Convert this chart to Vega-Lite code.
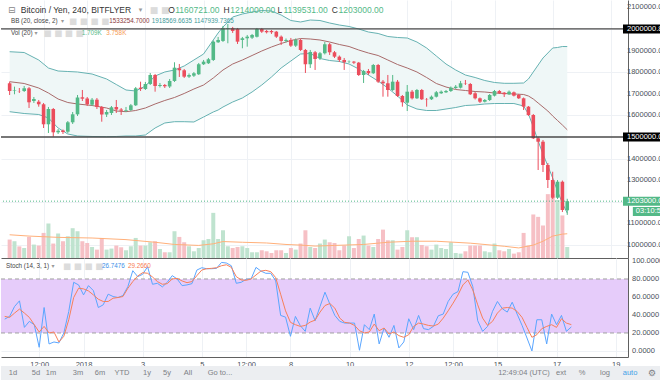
{
"$schema":"https://vega.github.io/schema/vega-lite/v6.json",
"padding":0,
"background":"#ffffff",
"spacing":0,
"bounds":"flush",
"config":{"view":{"stroke":null},"font":"Liberation Sans","axis":{"labelFont":"Liberation Sans","labelFontSize":7.5,"labelColor":"#4a4f59","labelOverlap":false}},
"datasets":{
"candles":[
{"t":"2017-12-29T08:00Z","o":1748600,"h":1756000,"l":1694400,"c":1712900,"v":2860,"k":35.4,"d":38.4},
{"t":"2017-12-29T12:00Z","o":1712900,"h":1732900,"l":1697700,"c":1715300,"v":2600,"k":38.4,"d":37.3},
{"t":"2017-12-29T16:00Z","o":1712900,"h":1726800,"l":1703700,"c":1712000,"v":1800,"k":49.4,"d":42.1},
{"t":"2017-12-29T20:00Z","o":1712900,"h":1736100,"l":1708300,"c":1725400,"v":1550,"k":55.7,"d":46.5},
{"t":"2017-12-30T00:00Z","o":1725400,"h":1731500,"l":1634200,"c":1660600,"v":3270,"k":26.2,"d":42.1},
{"t":"2017-12-30T04:00Z","o":1666600,"h":1685200,"l":1657400,"c":1675900,"v":2080,"k":32.9,"d":37.3},
{"t":"2017-12-30T08:00Z","o":1663400,"h":1671300,"l":1640300,"c":1651400,"v":1930,"k":29.2,"d":29.2},
{"t":"2017-12-30T12:00Z","o":1651400,"h":1657400,"l":1541600,"c":1558800,"v":3890,"k":4.1,"d":21.1},
{"t":"2017-12-30T16:00Z","o":1558800,"h":1639000,"l":1518500,"c":1629600,"v":5350,"k":48.3,"d":27.3},
{"t":"2017-12-30T20:00Z","o":1629600,"h":1634200,"l":1501400,"c":1521700,"v":2240,"k":7.8,"d":20.0},
{"t":"2017-12-31T00:00Z","o":1521700,"h":1537000,"l":1513900,"c":1529100,"v":3800,"k":10.0,"d":21.1},
{"t":"2017-12-31T04:00Z","o":1530100,"h":1534700,"l":1513900,"c":1523100,"v":2600,"k":8.9,"d":10.0},
{"t":"2017-12-31T08:00Z","o":1524500,"h":1574000,"l":1518500,"c":1568000,"v":3370,"k":20.0,"d":16.3},
{"t":"2017-12-31T12:00Z","o":1568000,"h":1615700,"l":1560200,"c":1605000,"v":4620,"k":43.9,"d":34.7},
{"t":"2017-12-31T16:00Z","o":1605000,"h":1694400,"l":1597200,"c":1682800,"v":4150,"k":76.3,"d":59.4},
{"t":"2017-12-31T20:00Z","o":1683800,"h":1717600,"l":1666600,"c":1677300,"v":2600,"k":73.4,"d":69.7},
{"t":"2018-01-01T00:00Z","o":1678200,"h":1685200,"l":1643500,"c":1651400,"v":2330,"k":62.3,"d":69.0},
{"t":"2018-01-01T04:00Z","o":1649500,"h":1680500,"l":1643500,"c":1672700,"v":1710,"k":72.6,"d":66.7},
{"t":"2018-01-01T08:00Z","o":1672700,"h":1680500,"l":1629600,"c":1638900,"v":1300,"k":67.1,"d":62.3},
{"t":"2018-01-01T12:00Z","o":1638900,"h":1643500,"l":1570800,"c":1604100,"v":3110,"k":48.3,"d":57.5},
{"t":"2018-01-01T16:00Z","o":1604100,"h":1625000,"l":1592600,"c":1615700,"v":1300,"k":51.3,"d":55.0},
{"t":"2018-01-01T20:00Z","o":1611100,"h":1643500,"l":1601900,"c":1637500,"v":1460,"k":63.1,"d":55.0},
{"t":"2018-01-02T00:00Z","o":1638900,"h":1671300,"l":1611100,"c":1627300,"v":1930,"k":60.5,"d":58.6},
{"t":"2018-01-02T04:00Z","o":1627300,"h":1634200,"l":1601900,"c":1621700,"v":1660,"k":59.4,"d":59.4},
{"t":"2018-01-02T08:00Z","o":1621700,"h":1639000,"l":1615700,"c":1625000,"v":1200,"k":61.6,"d":60.5},
{"t":"2018-01-02T12:00Z","o":1625000,"h":1652800,"l":1620300,"c":1646700,"v":1820,"k":71.5,"d":69.7},
{"t":"2018-01-02T16:00Z","o":1646700,"h":1731500,"l":1643500,"c":1725400,"v":3110,"k":89.2,"d":77.1},
{"t":"2018-01-02T20:00Z","o":1728200,"h":1756000,"l":1712900,"c":1722200,"v":1930,"k":82.6,"d":83.3},
{"t":"2018-01-03T00:00Z","o":1722200,"h":1754600,"l":1717600,"c":1745400,"v":1930,"k":85.2,"d":87.0},
{"t":"2018-01-03T04:00Z","o":1745400,"h":1796300,"l":1740700,"c":1787000,"v":2440,"k":93.6,"d":86.3},
{"t":"2018-01-03T08:00Z","o":1787000,"h":1791700,"l":1709700,"c":1736100,"v":2600,"k":74.1,"d":82.2},
{"t":"2018-01-03T12:00Z","o":1736100,"h":1750000,"l":1729200,"c":1740700,"v":1400,"k":75.2,"d":77.1},
{"t":"2018-01-03T16:00Z","o":1740700,"h":1745400,"l":1726800,"c":1734700,"v":890,"k":71.2,"d":74.1},
{"t":"2018-01-03T20:00Z","o":1733800,"h":1768500,"l":1726800,"c":1759300,"v":890,"k":76.3,"d":74.8},
{"t":"2018-01-04T00:00Z","o":1759300,"h":1845800,"l":1754600,"c":1820800,"v":4150,"k":83.7,"d":80.0},
{"t":"2018-01-04T04:00Z","o":1818000,"h":1838000,"l":1777800,"c":1808800,"v":3270,"k":80.0,"d":80.7},
{"t":"2018-01-04T08:00Z","o":1808800,"h":1814800,"l":1773100,"c":1779200,"v":2440,"k":72.6,"d":77.8},
{"t":"2018-01-04T12:00Z","o":1779200,"h":1794000,"l":1773100,"c":1787000,"v":1820,"k":73.4,"d":75.9},
{"t":"2018-01-04T16:00Z","o":1783800,"h":1800900,"l":1777800,"c":1794900,"v":1040,"k":74.8,"d":77.1},
{"t":"2018-01-04T20:00Z","o":1790300,"h":1842600,"l":1787000,"c":1836600,"v":1550,"k":89.9,"d":83.7},
{"t":"2018-01-05T00:00Z","o":1836600,"h":1856500,"l":1833300,"c":1848600,"v":2750,"k":92.5,"d":89.9},
{"t":"2018-01-05T04:00Z","o":1841200,"h":1865700,"l":1838000,"c":1859700,"v":2950,"k":91.4,"d":91.4},
{"t":"2018-01-05T08:00Z","o":1856500,"h":1946800,"l":1851800,"c":1941200,"v":7000,"k":91.4,"d":91.8},
{"t":"2018-01-05T12:00Z","o":1938400,"h":1963000,"l":1935200,"c":1949100,"v":2950,"k":91.8,"d":92.5},
{"t":"2018-01-05T16:00Z","o":1944500,"h":2013900,"l":1939800,"c":2003200,"v":4300,"k":98.4,"d":94.7},
{"t":"2018-01-05T20:00Z","o":2000000,"h":2023200,"l":1933800,"c":2003200,"v":1820,"k":97.7,"d":95.8},
{"t":"2018-01-06T00:00Z","o":2003200,"h":2009300,"l":1981500,"c":1990700,"v":1550,"k":94.7,"d":92.9},
{"t":"2018-01-06T04:00Z","o":2000000,"h":2004600,"l":1930500,"c":1941200,"v":1710,"k":75.2,"d":82.6},
{"t":"2018-01-06T08:00Z","o":1949100,"h":1963000,"l":1910600,"c":1956900,"v":1820,"k":76.3,"d":78.9},
{"t":"2018-01-06T12:00Z","o":1956900,"h":1972200,"l":1918000,"c":1964300,"v":1550,"k":79.6,"d":78.5},
{"t":"2018-01-06T16:00Z","o":1959700,"h":1976800,"l":1953700,"c":1972200,"v":890,"k":80.0,"d":80.0},
{"t":"2018-01-06T20:00Z","o":1964300,"h":2004600,"l":1960600,"c":2000000,"v":890,"k":92.9,"d":84.4},
{"t":"2018-01-07T00:00Z","o":2000000,"h":2004600,"l":1981500,"c":1987500,"v":1200,"k":88.8,"d":88.8},
{"t":"2018-01-07T04:00Z","o":1990700,"h":1995400,"l":1979200,"c":1984700,"v":1040,"k":86.3,"d":89.6},
{"t":"2018-01-07T08:00Z","o":1990700,"h":1995400,"l":1976800,"c":1984700,"v":780,"k":86.3,"d":88.1},
{"t":"2018-01-07T12:00Z","o":1987500,"h":1990700,"l":1958300,"c":1964300,"v":1200,"k":77.8,"d":81.5},
{"t":"2018-01-07T16:00Z","o":1964300,"h":1969900,"l":1925900,"c":1944500,"v":1200,"k":39.5,"d":63.1},
{"t":"2018-01-07T20:00Z","o":1944500,"h":1956000,"l":1937500,"c":1949100,"v":780,"k":37.6,"d":44.6},
{"t":"2018-01-08T00:00Z","o":1949100,"h":1958300,"l":1916700,"c":1922700,"v":1550,"k":16.3,"d":31.8},
{"t":"2018-01-08T04:00Z","o":1922700,"h":1956000,"l":1916700,"c":1949100,"v":1300,"k":38.4,"d":29.2},
{"t":"2018-01-08T08:00Z","o":1949100,"h":1953700,"l":1898200,"c":1902800,"v":2240,"k":28.1,"d":27.3},
{"t":"2018-01-08T12:00Z","o":1902800,"h":1907400,"l":1796300,"c":1836600,"v":4300,"k":21.8,"d":28.4},
{"t":"2018-01-08T16:00Z","o":1836600,"h":1902800,"l":1819400,"c":1893500,"v":1710,"k":47.6,"d":32.1},
{"t":"2018-01-08T20:00Z","o":1892100,"h":1898100,"l":1810200,"c":1861100,"v":1550,"k":33.6,"d":34.3},
{"t":"2018-01-09T00:00Z","o":1864300,"h":1893500,"l":1856500,"c":1887500,"v":2240,"k":49.4,"d":43.2},
{"t":"2018-01-09T04:00Z","o":1887500,"h":1939800,"l":1881900,"c":1929200,"v":2860,"k":65.3,"d":50.5},
{"t":"2018-01-09T08:00Z","o":1929200,"h":1935200,"l":1879600,"c":1892100,"v":2440,"k":52.0,"d":52.7},
{"t":"2018-01-09T12:00Z","o":1892100,"h":1898100,"l":1865700,"c":1871800,"v":2330,"k":39.5,"d":47.6},
{"t":"2018-01-09T16:00Z","o":1871800,"h":1877300,"l":1847200,"c":1856500,"v":1200,"k":32.9,"d":36.5},
{"t":"2018-01-09T20:00Z","o":1856500,"h":1865700,"l":1810200,"c":1845800,"v":1930,"k":31.0,"d":31.8},
{"t":"2018-01-10T00:00Z","o":1848600,"h":1854200,"l":1842600,"c":1849500,"v":3370,"k":31.0,"d":31.0},
{"t":"2018-01-10T04:00Z","o":1848600,"h":1851800,"l":1838000,"c":1844000,"v":1550,"k":31.0,"d":28.4},
{"t":"2018-01-10T08:00Z","o":1844000,"h":1847200,"l":1782400,"c":1787000,"v":2950,"k":0.8,"d":22.5},
{"t":"2018-01-10T12:00Z","o":1787000,"h":1810200,"l":1750000,"c":1805500,"v":3480,"k":29.2,"d":20.0},
{"t":"2018-01-10T16:00Z","o":1805500,"h":1814800,"l":1787000,"c":1794900,"v":1930,"k":23.7,"d":21.1},
{"t":"2018-01-10T20:00Z","o":1794900,"h":1838000,"l":1791700,"c":1833300,"v":1710,"k":41.0,"d":29.9},
{"t":"2018-01-11T00:00Z","o":1833300,"h":1838000,"l":1750000,"c":1756000,"v":2950,"k":7.8,"d":22.5},
{"t":"2018-01-11T04:00Z","o":1756000,"h":1763900,"l":1686500,"c":1748600,"v":4400,"k":25.5,"d":25.5},
{"t":"2018-01-11T08:00Z","o":1748600,"h":1787000,"l":1686500,"c":1717600,"v":2750,"k":15.2,"d":18.9},
{"t":"2018-01-11T12:00Z","o":1717600,"h":1787000,"l":1712900,"c":1756000,"v":2750,"k":28.4,"d":21.1},
{"t":"2018-01-11T16:00Z","o":1756000,"h":1763900,"l":1685200,"c":1689800,"v":1300,"k":3.4,"d":17.0},
{"t":"2018-01-11T20:00Z","o":1689800,"h":1694400,"l":1640300,"c":1660600,"v":1710,"k":10.0,"d":15.2},
{"t":"2018-01-12T00:00Z","o":1658800,"h":1740700,"l":1620300,"c":1709700,"v":4300,"k":35.8,"d":18.1},
{"t":"2018-01-12T04:00Z","o":1709700,"h":1717600,"l":1673600,"c":1679100,"v":3220,"k":23.7,"d":27.3},
{"t":"2018-01-12T08:00Z","o":1679100,"h":1722200,"l":1675900,"c":1717600,"v":3220,"k":39.5,"d":31.0},
{"t":"2018-01-12T12:00Z","o":1717600,"h":1722200,"l":1671300,"c":1674500,"v":2020,"k":24.8,"d":29.9},
{"t":"2018-01-12T16:00Z","o":1675900,"h":1680500,"l":1640300,"c":1674500,"v":1820,"k":23.7,"d":28.4},
{"t":"2018-01-12T20:00Z","o":1674500,"h":1692100,"l":1671300,"c":1686500,"v":1300,"k":27.3,"d":27.7},
{"t":"2018-01-13T00:00Z","o":1686500,"h":1712900,"l":1682800,"c":1706900,"v":2080,"k":39.1,"d":29.9},
{"t":"2018-01-13T04:00Z","o":1702300,"h":1715300,"l":1699100,"c":1709700,"v":1550,"k":41.0,"d":36.5},
{"t":"2018-01-13T08:00Z","o":1706900,"h":1717600,"l":1703700,"c":1712900,"v":1400,"k":55.0,"d":44.6},
{"t":"2018-01-13T12:00Z","o":1712900,"h":1733800,"l":1708300,"c":1728200,"v":2440,"k":63.1,"d":53.1},
{"t":"2018-01-13T16:00Z","o":1726800,"h":1740700,"l":1722200,"c":1732900,"v":780,"k":66.0,"d":62.3},
{"t":"2018-01-13T20:00Z","o":1728200,"h":1759300,"l":1724500,"c":1748600,"v":680,"k":88.1,"d":73.4},
{"t":"2018-01-14T00:00Z","o":1748600,"h":1763900,"l":1740700,"c":1747200,"v":1040,"k":87.4,"d":78.9},
{"t":"2018-01-14T04:00Z","o":1745400,"h":1750000,"l":1694400,"c":1697700,"v":1930,"k":71.5,"d":67.8},
{"t":"2018-01-14T08:00Z","o":1702300,"h":1708300,"l":1673600,"c":1679100,"v":1930,"k":33.6,"d":51.3},
{"t":"2018-01-14T12:00Z","o":1679100,"h":1682800,"l":1657400,"c":1663400,"v":1930,"k":21.8,"d":36.5},
{"t":"2018-01-14T16:00Z","o":1663400,"h":1675900,"l":1659700,"c":1671300,"v":1040,"k":27.3,"d":28.4},
{"t":"2018-01-14T20:00Z","o":1671300,"h":1699100,"l":1666600,"c":1694400,"v":890,"k":43.9,"d":32.9},
{"t":"2018-01-15T00:00Z","o":1691200,"h":1717600,"l":1687500,"c":1712900,"v":2240,"k":55.0,"d":42.1},
{"t":"2018-01-15T04:00Z","o":1712900,"h":1717600,"l":1699100,"c":1702300,"v":1200,"k":46.9,"d":47.6},
{"t":"2018-01-15T08:00Z","o":1705100,"h":1708300,"l":1685200,"c":1697700,"v":1040,"k":43.2,"d":48.3},
{"t":"2018-01-15T12:00Z","o":1697700,"h":1715300,"l":1694400,"c":1709700,"v":1400,"k":54.2,"d":47.6},
{"t":"2018-01-15T16:00Z","o":1706900,"h":1710600,"l":1687500,"c":1691200,"v":680,"k":41.0,"d":43.9},
{"t":"2018-01-15T20:00Z","o":1694400,"h":1699100,"l":1675900,"c":1679100,"v":890,"k":28.4,"d":37.3},
{"t":"2018-01-16T00:00Z","o":1679100,"h":1682800,"l":1625000,"c":1640300,"v":3890,"k":14.4,"d":26.2},
{"t":"2018-01-16T04:00Z","o":1640300,"h":1643500,"l":1597200,"c":1601900,"v":1930,"k":0.0,"d":15.2},
{"t":"2018-01-16T08:00Z","o":1601900,"h":1606500,"l":1490700,"c":1493900,"v":6750,"k":34.7,"d":18.1},
{"t":"2018-01-16T12:00Z","o":1493900,"h":1500000,"l":1347200,"c":1478200,"v":6380,"k":34.7,"d":24.8},
{"t":"2018-01-16T16:00Z","o":1478200,"h":1486100,"l":1337900,"c":1370300,"v":5040,"k":7.8,"d":27.3},
{"t":"2018-01-16T20:00Z","o":1370300,"h":1379600,"l":1263900,"c":1300900,"v":9900,"k":41.0,"d":29.2},
{"t":"2018-01-17T00:00Z","o":1300900,"h":1339300,"l":1212900,"c":1219000,"v":9900,"k":29.2,"d":26.2},
{"t":"2018-01-17T04:00Z","o":1219000,"h":1300900,"l":1212900,"c":1293000,"v":9000,"k":39.5,"d":35.8},
{"t":"2018-01-17T08:00Z","o":1293000,"h":1298600,"l":1152700,"c":1162000,"v":6600,"k":21.8,"d":31.0},
{"t":"2018-01-17T12:00Z","o":1160721,"h":1214000,"l":1139531,"c":1203000,"v":1709,"k":26.7476,"d":29.266}
],
"bb":[
{"t":"2017-12-29T08:00Z","u":1894700,"m":1755900,"l":1617100},
{"t":"2017-12-29T20:00Z","u":1891000,"m":1747600,"l":1608700},
{"t":"2017-12-30T08:00Z","u":1856300,"m":1726700,"l":1604100},
{"t":"2017-12-30T16:00Z","u":1819300,"m":1703600,"l":1587900},
{"t":"2017-12-31T00:00Z","u":1805400,"m":1675800,"l":1541600},
{"t":"2017-12-31T08:00Z","u":1803100,"m":1659600,"l":1513900},
{"t":"2017-12-31T16:00Z","u":1800800,"m":1652700,"l":1504600},
{"t":"2018-01-01T04:00Z","u":1791500,"m":1645700,"l":1502300},
{"t":"2018-01-01T16:00Z","u":1768400,"m":1634200,"l":1501400},
{"t":"2018-01-02T00:00Z","u":1742900,"m":1620300,"l":1502300},
{"t":"2018-01-02T08:00Z","u":1717500,"m":1617100,"l":1504600},
{"t":"2018-01-02T16:00Z","u":1712900,"m":1622600,"l":1504600},
{"t":"2018-01-03T00:00Z","u":1736000,"m":1634200,"l":1509200},
{"t":"2018-01-03T08:00Z","u":1782300,"m":1652700,"l":1541600},
{"t":"2018-01-03T16:00Z","u":1800800,"m":1668900,"l":1564800},
{"t":"2018-01-04T00:00Z","u":1810000,"m":1682800,"l":1570800},
{"t":"2018-01-04T08:00Z","u":1828600,"m":1701300,"l":1570800},
{"t":"2018-01-04T16:00Z","u":1856300,"m":1722100,"l":1569400},
{"t":"2018-01-05T00:00Z","u":1884100,"m":1740600,"l":1592500},
{"t":"2018-01-05T08:00Z","u":1948900,"m":1773000,"l":1615700},
{"t":"2018-01-05T12:00Z","u":1981300,"m":1791500,"l":1624900},
{"t":"2018-01-05T16:00Z","u":2009000,"m":1810000,"l":1638800},
{"t":"2018-01-06T00:00Z","u":2055300,"m":1837800,"l":1661900},
{"t":"2018-01-06T08:00Z","u":2069200,"m":1856300,"l":1680500},
{"t":"2018-01-06T16:00Z","u":2078500,"m":1877100,"l":1708200},
{"t":"2018-01-07T00:00Z","u":2085400,"m":1898000,"l":1740600},
{"t":"2018-01-07T08:00Z","u":2083100,"m":1916500,"l":1777600},
{"t":"2018-01-07T16:00Z","u":2064600,"m":1932700,"l":1819300},
{"t":"2018-01-08T00:00Z","u":2039100,"m":1946600,"l":1851700},
{"t":"2018-01-08T08:00Z","u":2032200,"m":1955800,"l":1884100},
{"t":"2018-01-08T16:00Z","u":2041400,"m":1953500,"l":1886400},
{"t":"2018-01-09T00:00Z","u":2039100,"m":1948900,"l":1863300},
{"t":"2018-01-09T08:00Z","u":2027600,"m":1939600,"l":1854000},
{"t":"2018-01-09T16:00Z","u":2018300,"m":1928100,"l":1849400},
{"t":"2018-01-10T00:00Z","u":2011400,"m":1918800,"l":1837800},
{"t":"2018-01-10T08:00Z","u":1999800,"m":1902600,"l":1814700},
{"t":"2018-01-10T16:00Z","u":1985900,"m":1888700,"l":1786900},
{"t":"2018-01-11T00:00Z","u":1979000,"m":1877100,"l":1759100},
{"t":"2018-01-11T08:00Z","u":1965100,"m":1856300,"l":1726700},
{"t":"2018-01-11T16:00Z","u":1960500,"m":1835500,"l":1689700},
{"t":"2018-01-12T00:00Z","u":1958100,"m":1819300,"l":1648100},
{"t":"2018-01-12T08:00Z","u":1939600,"m":1800800,"l":1629500},
{"t":"2018-01-12T16:00Z","u":1911900,"m":1775300,"l":1622600},
{"t":"2018-01-13T00:00Z","u":1874800,"m":1747600,"l":1622600},
{"t":"2018-01-13T08:00Z","u":1837800,"m":1731400,"l":1629500},
{"t":"2018-01-13T16:00Z","u":1810000,"m":1719800,"l":1636500},
{"t":"2018-01-14T00:00Z","u":1786900,"m":1715200,"l":1645700},
{"t":"2018-01-14T08:00Z","u":1775300,"m":1710500,"l":1648100},
{"t":"2018-01-14T16:00Z","u":1761400,"m":1708200,"l":1652700},
{"t":"2018-01-15T00:00Z","u":1752200,"m":1703600,"l":1655000},
{"t":"2018-01-15T08:00Z","u":1748500,"m":1701300,"l":1655000},
{"t":"2018-01-15T16:00Z","u":1748500,"m":1699000,"l":1655000},
{"t":"2018-01-16T00:00Z","u":1749900,"m":1696700,"l":1643400},
{"t":"2018-01-16T04:00Z","u":1768400,"m":1689700,"l":1606400},
{"t":"2018-01-16T08:00Z","u":1800800,"m":1675800,"l":1546200},
{"t":"2018-01-16T12:00Z","u":1833200,"m":1657300,"l":1481500},
{"t":"2018-01-16T16:00Z","u":1865600,"m":1638800,"l":1421300},
{"t":"2018-01-16T20:00Z","u":1888700,"m":1620300,"l":1365800},
{"t":"2018-01-17T00:00Z","u":1911900,"m":1597200,"l":1310200},
{"t":"2018-01-17T04:00Z","u":1914200,"m":1576300,"l":1250100},
{"t":"2018-01-17T08:00Z","u":1918800,"m":1555500,"l":1194500},
{"t":"2018-01-17T12:00Z","u":1918570,"m":1533255,"l":1147940}
],
"vma":[
{"t":"2017-12-29T08:00Z","v":3600},{"t":"2017-12-30T00:00Z","v":3400},{"t":"2017-12-31T00:00Z","v":3200},{"t":"2018-01-01T04:00Z","v":3100},{"t":"2018-01-02T08:00Z","v":2850},{"t":"2018-01-03T08:00Z","v":2440},{"t":"2018-01-04T00:00Z","v":2100},{"t":"2018-01-04T20:00Z","v":1950},{"t":"2018-01-05T08:00Z","v":2200},{"t":"2018-01-05T16:00Z","v":2550},{"t":"2018-01-06T08:00Z","v":2440},{"t":"2018-01-07T04:00Z","v":2330},{"t":"2018-01-07T20:00Z","v":2100},{"t":"2018-01-08T08:00Z","v":2000},{"t":"2018-01-08T20:00Z","v":1850},{"t":"2018-01-09T12:00Z","v":1950},{"t":"2018-01-10T12:00Z","v":2100},{"t":"2018-01-11T08:00Z","v":2440},{"t":"2018-01-12T04:00Z","v":2600},{"t":"2018-01-13T00:00Z","v":2600},{"t":"2018-01-14T04:00Z","v":2300},{"t":"2018-01-15T08:00Z","v":1820},{"t":"2018-01-15T20:00Z","v":1560},{"t":"2018-01-16T08:00Z","v":2000},{"t":"2018-01-16T16:00Z","v":2600},{"t":"2018-01-17T00:00Z","v":3400},{"t":"2018-01-17T08:00Z","v":3700},{"t":"2018-01-17T12:00Z","v":3758}
],
"pticks":[{"p":1000000},{"p":1100000},{"p":1300000},{"p":1400000},{"p":1600000},{"p":1700000},{"p":1800000},{"p":1900000},{"p":2100000}],
"sticks":[{"s":0},{"s":20},{"s":40},{"s":60},{"s":80},{"s":100}]
},
"vconcat":[
{
"width":627,"height":258,
"layer":[
{"data":{"name":"bb"},
 "layer":[
  {"mark":{"type":"area","color":"#eff7f7"},"encoding":{"x":{"field":"t","type":"temporal","title":null},"y":{"field":"u","type":"quantitative","title":null,"scale":{"domain":[940000,2134000],"nice":false,"zero":false},"axis":null},"y2":{"field":"l"}}},
  {"mark":{"type":"line","color":"#66b2b2","strokeWidth":1},"encoding":{"x":{"field":"t","type":"temporal","title":null},"y":{"field":"u","type":"quantitative","title":null}}},
  {"mark":{"type":"line","color":"#66b2b2","strokeWidth":1},"encoding":{"x":{"field":"t","type":"temporal","title":null},"y":{"field":"l","type":"quantitative","title":null}}},
  {"mark":{"type":"line","color":"#a96b6b","strokeWidth":1},"encoding":{"x":{"field":"t","type":"temporal","title":null},"y":{"field":"m","type":"quantitative","title":null}}}
 ]},
{"layer":[
  {"data":{"name":"candles"},"mark":{"type":"bar","size":4},"encoding":{"x":{"field":"t","type":"temporal","title":null},"y":{"field":"v","type":"quantitative","title":null,"scale":{"domain":[0,40000],"nice":false},"axis":null},"color":{"condition":{"test":"datum.c >= datum.o","value":"#bfe3cf"},"value":"#f6c0c5"}}},
  {"data":{"name":"vma"},"mark":{"type":"line","color":"#ffb07a","strokeWidth":1},"encoding":{"x":{"field":"t","type":"temporal","title":null},"y":{"field":"v","type":"quantitative","title":null}}}
 ]},
{"layer":[
  {"data":{"name":"candles"},"mark":{"type":"rule","strokeWidth":1},"encoding":{
    "x":{"field":"t","type":"temporal","title":null,"scale":{"type":"utc","domain":[{"year":2017,"month":12,"date":29,"hours":5,"utc":true},{"year":2018,"month":1,"date":19,"hours":10,"utc":true}]},
      "axis":{"orient":"bottom","values":[{"year":2017,"month":12,"date":30,"hours":12,"utc":true},{"year":2018,"month":1,"date":1,"utc":true},{"year":2018,"month":1,"date":3,"utc":true},{"year":2018,"month":1,"date":5,"utc":true},{"year":2018,"month":1,"date":6,"hours":12,"utc":true},{"year":2018,"month":1,"date":8,"utc":true},{"year":2018,"month":1,"date":10,"utc":true},{"year":2018,"month":1,"date":12,"utc":true},{"year":2018,"month":1,"date":13,"hours":12,"utc":true},{"year":2018,"month":1,"date":15,"utc":true},{"year":2018,"month":1,"date":17,"utc":true},{"year":2018,"month":1,"date":19,"utc":true}],"grid":true,"gridColor":"#eef1f5","labels":false,"ticks":false,"domain":true,"domainColor":"#606060"}},
    "y":{"field":"l","type":"quantitative","title":null,"scale":{"domain":[940000,2134000],"nice":false,"zero":false},
      "axis":{"orient":"right","values":[1000000,1100000,1200000,1300000,1400000,1500000,1600000,1700000,1800000,1900000,2000000,2100000],"grid":true,"gridColor":"#eef1f5","ticks":false,"labels":false,"domainColor":"#606060"}},
    "y2":{"field":"h"},
    "color":{"condition":{"test":"datum.c >= datum.o","value":"#53b987"},"value":"#eb4d5c"}}},
  {"data":{"name":"candles"},"mark":{"type":"bar","size":3.6},"encoding":{"x":{"field":"t","type":"temporal","title":null},"y":{"field":"o","type":"quantitative","title":null},"y2":{"field":"c"},"color":{"condition":{"test":"datum.c >= datum.o","value":"#53b987"},"value":"#eb4d5c"}}},
  {"data":{"name":"pticks"},"mark":{"type":"text","align":"left","baseline":"middle","dx":4,"fontSize":7.5,"color":"#4a4f59"},"encoding":{"x":{"datum":{"year":2018,"month":1,"date":19,"hours":10,"utc":true}},"y":{"field":"p","type":"quantitative","title":null},"text":{"field":"p","type":"quantitative","format":".2f"}}},
  {"data":{"values":[{}]},"mark":{"type":"rule","color":"#4a4a4a","strokeWidth":1.3},"encoding":{"y":{"datum":2000000.87,"type":"quantitative","title":null}}},
  {"data":{"values":[{}]},"mark":{"type":"rule","color":"#4a4a4a","strokeWidth":1.3},"encoding":{"y":{"datum":1500000,"type":"quantitative","title":null}}},
  {"data":{"values":[{}]},"mark":{"type":"rule","color":"#53b987","strokeWidth":1,"strokeDash":[1,2]},"encoding":{"y":{"datum":1203000,"type":"quantitative","title":null}}},
  {"data":{"values":[{}]},"mark":{"type":"rect","color":"#000000"},"encoding":{"x":{"datum":{"year":2018,"month":1,"date":19,"hours":10,"utc":true}},"x2":{"datum":{"year":2018,"month":1,"date":21,"utc":true}},"y":{"datum":1979200,"type":"quantitative","title":null},"y2":{"datum":2020800}}},
  {"data":{"values":[{}]},"mark":{"type":"rect","color":"#000000"},"encoding":{"x":{"datum":{"year":2018,"month":1,"date":19,"hours":10,"utc":true}},"x2":{"datum":{"year":2018,"month":1,"date":21,"utc":true}},"y":{"datum":1479200,"type":"quantitative","title":null},"y2":{"datum":1520800}}},
  {"data":{"values":[{}]},"mark":{"type":"rect","color":"#53b987"},"encoding":{"x":{"datum":{"year":2018,"month":1,"date":19,"hours":10,"utc":true}},"x2":{"datum":{"year":2018,"month":1,"date":21,"utc":true}},"y":{"datum":1182200,"type":"quantitative","title":null},"y2":{"datum":1223800}}},
  {"data":{"values":[{}]},"mark":{"type":"rect","color":"#53b987"},"encoding":{"x":{"datum":{"year":2018,"month":1,"date":19,"hours":18,"minutes":8,"utc":true}},"x2":{"datum":{"year":2018,"month":1,"date":21,"utc":true}},"y":{"datum":1134400,"type":"quantitative","title":null},"y2":{"datum":1176000}}},
  {"data":{"values":[{}]},"mark":{"type":"text","text":"2000000.87","color":"#ffffff","align":"left","dx":4,"fontSize":7.5},"encoding":{"x":{"datum":{"year":2018,"month":1,"date":19,"hours":10,"utc":true}},"y":{"datum":2000000.87,"type":"quantitative","title":null}}},
  {"data":{"values":[{}]},"mark":{"type":"text","text":"1500000.00","color":"#ffffff","align":"left","dx":4,"fontSize":7.5},"encoding":{"x":{"datum":{"year":2018,"month":1,"date":19,"hours":10,"utc":true}},"y":{"datum":1500000,"type":"quantitative","title":null}}},
  {"data":{"values":[{}]},"mark":{"type":"text","text":"1203000.00","color":"#ffffff","align":"left","dx":4,"fontSize":7.5},"encoding":{"x":{"datum":{"year":2018,"month":1,"date":19,"hours":10,"utc":true}},"y":{"datum":1203000,"type":"quantitative","title":null}}},
  {"data":{"values":[{}]},"mark":{"type":"text","text":"03:10:55","color":"#ffffff","align":"left","dx":3,"fontSize":7.5},"encoding":{"x":{"datum":{"year":2018,"month":1,"date":19,"hours":18,"minutes":8,"utc":true}},"y":{"datum":1155200,"type":"quantitative","title":null}}},
  {"data":{"values":[{}]},"mark":{"type":"text","text":"⊟","font":"DejaVu Sans","color":"#888888","align":"left","fontSize":9},"encoding":{"x":{"datum":{"year":2017,"month":12,"date":29,"hours":6,"minutes":37,"utc":true}},"y":{"datum":2087700,"type":"quantitative","title":null}}},
  {"data":{"values":[{}]},"mark":{"type":"text","text":"Bitcoin / Yen, 240, BITFLYER","color":"#333333","align":"left","fontSize":8.5},"encoding":{"x":{"datum":{"year":2017,"month":12,"date":29,"hours":17,"minutes":11,"utc":true}},"y":{"datum":2087700,"type":"quantitative","title":null}}},
  {"data":{"values":[{}]},"mark":{"type":"text","text":"▾","font":"DejaVu Sans","color":"#999999","align":"left","fontSize":7},"encoding":{"x":{"datum":{"year":2018,"month":1,"date":2,"hours":18,"minutes":36,"utc":true}},"y":{"datum":2087700,"type":"quantitative","title":null}}},
  {"data":{"values":[{}]},"mark":{"type":"text","text":"■ ■","font":"DejaVu Sans","color":"#dcdcdc","align":"left","fontSize":9},"encoding":{"x":{"datum":{"year":2018,"month":1,"date":3,"hours":3,"minutes":32,"utc":true}},"y":{"datum":2087700,"type":"quantitative","title":null}}},
  {"data":{"values":[{}]},"mark":{"type":"text","text":"O","color":"#333333","align":"left","fontSize":8.5},"encoding":{"x":{"datum":{"year":2018,"month":1,"date":3,"hours":18,"minutes":57,"utc":true}},"y":{"datum":2087700,"type":"quantitative","title":null}}},
  {"data":{"values":[{}]},"mark":{"type":"text","text":"1160721.00","color":"#53b987","align":"left","fontSize":8.5},"encoding":{"x":{"datum":{"year":2018,"month":1,"date":4,"hours":0,"minutes":38,"utc":true}},"y":{"datum":2087700,"type":"quantitative","title":null}}},
  {"data":{"values":[{}]},"mark":{"type":"text","text":"H","color":"#333333","align":"left","fontSize":8.5},"encoding":{"x":{"datum":{"year":2018,"month":1,"date":5,"hours":16,"minutes":25,"utc":true}},"y":{"datum":2087700,"type":"quantitative","title":null}}},
  {"data":{"values":[{}]},"mark":{"type":"text","text":"1214000.00","color":"#53b987","align":"left","fontSize":8.5},"encoding":{"x":{"datum":{"year":2018,"month":1,"date":5,"hours":22,"minutes":6,"utc":true}},"y":{"datum":2087700,"type":"quantitative","title":null}}},
  {"data":{"values":[{}]},"mark":{"type":"text","text":"L","color":"#333333","align":"left","fontSize":8.5},"encoding":{"x":{"datum":{"year":2018,"month":1,"date":7,"hours":13,"minutes":4,"utc":true}},"y":{"datum":2087700,"type":"quantitative","title":null}}},
  {"data":{"values":[{}]},"mark":{"type":"text","text":"1139531.00","color":"#53b987","align":"left","fontSize":8.5},"encoding":{"x":{"datum":{"year":2018,"month":1,"date":7,"hours":17,"minutes":56,"utc":true}},"y":{"datum":2087700,"type":"quantitative","title":null}}},
  {"data":{"values":[{}]},"mark":{"type":"text","text":"C","color":"#333333","align":"left","fontSize":8.5},"encoding":{"x":{"datum":{"year":2018,"month":1,"date":9,"hours":9,"minutes":43,"utc":true}},"y":{"datum":2087700,"type":"quantitative","title":null}}},
  {"data":{"values":[{}]},"mark":{"type":"text","text":"1203000.00","color":"#53b987","align":"left","fontSize":8.5},"encoding":{"x":{"datum":{"year":2018,"month":1,"date":9,"hours":15,"minutes":24,"utc":true}},"y":{"datum":2087700,"type":"quantitative","title":null}}},
  {"data":{"values":[{}]},"mark":{"type":"text","text":"BB (20, close, 2)","color":"#444444","align":"left","fontSize":6.3},"encoding":{"x":{"datum":{"year":2017,"month":12,"date":29,"hours":9,"minutes":4,"utc":true}},"y":{"datum":2036800,"type":"quantitative","title":null}}},
  {"data":{"values":[{}]},"mark":{"type":"text","text":"▾","font":"DejaVu Sans","color":"#999999","align":"left","fontSize":6},"encoding":{"x":{"datum":{"year":2017,"month":12,"date":31,"hours":2,"minutes":28,"utc":true}},"y":{"datum":2036800,"type":"quantitative","title":null}}},
  {"data":{"values":[{}]},"mark":{"type":"text","text":"■ ■ ■ ■","font":"DejaVu Sans","color":"#dcdcdc","align":"left","fontSize":8.5},"encoding":{"x":{"datum":{"year":2017,"month":12,"date":31,"hours":8,"minutes":57,"utc":true}},"y":{"datum":2036800,"type":"quantitative","title":null}}},
  {"data":{"values":[{}]},"mark":{"type":"text","text":"1533254.7000","color":"#8b3b3b","align":"left","fontSize":6.3},"encoding":{"x":{"datum":{"year":2018,"month":1,"date":1,"hours":18,"minutes":15,"utc":true}},"y":{"datum":2036800,"type":"quantitative","title":null}}},
  {"data":{"values":[{}]},"mark":{"type":"text","text":"1918569.6635","color":"#3f9a9a","align":"left","fontSize":6.3},"encoding":{"x":{"datum":{"year":2018,"month":1,"date":3,"hours":5,"minutes":9,"utc":true}},"y":{"datum":2036800,"type":"quantitative","title":null}}},
  {"data":{"values":[{}]},"mark":{"type":"text","text":"1147939.7365","color":"#3f9a9a","align":"left","fontSize":6.3},"encoding":{"x":{"datum":{"year":2018,"month":1,"date":4,"hours":16,"minutes":4,"utc":true}},"y":{"datum":2036800,"type":"quantitative","title":null}}},
  {"data":{"values":[{}]},"mark":{"type":"text","text":"Vol (20)","color":"#444444","align":"left","fontSize":6.3},"encoding":{"x":{"datum":{"year":2017,"month":12,"date":29,"hours":9,"minutes":4,"utc":true}},"y":{"datum":1981300,"type":"quantitative","title":null}}},
  {"data":{"values":[{}]},"mark":{"type":"text","text":"▾","font":"DejaVu Sans","color":"#999999","align":"left","fontSize":6},"encoding":{"x":{"datum":{"year":2017,"month":12,"date":30,"hours":4,"minutes":33,"utc":true}},"y":{"datum":1981300,"type":"quantitative","title":null}}},
  {"data":{"values":[{}]},"mark":{"type":"text","text":"■ ■ ■ ■","font":"DejaVu Sans","color":"#dcdcdc","align":"left","fontSize":8.5},"encoding":{"x":{"datum":{"year":2017,"month":12,"date":30,"hours":11,"minutes":51,"utc":true}},"y":{"datum":1981300,"type":"quantitative","title":null}}},
  {"data":{"values":[{}]},"mark":{"type":"text","text":"1.709K","color":"#53b987","align":"left","fontSize":6.3},"encoding":{"x":{"datum":{"year":2017,"month":12,"date":31,"hours":19,"minutes":31,"utc":true}},"y":{"datum":1981300,"type":"quantitative","title":null}}},
  {"data":{"values":[{}]},"mark":{"type":"text","text":"3.758K","color":"#f59a55","align":"left","fontSize":6.3},"encoding":{"x":{"datum":{"year":2018,"month":1,"date":1,"hours":15,"minutes":48,"utc":true}},"y":{"datum":1981300,"type":"quantitative","title":null}}}
 ]}
],
"resolve":{"scale":{"y":"independent"}}
},
{
"width":627,"height":99,
"layer":[
  {"data":{"values":[{}]},"mark":{"type":"rect","color":"#e6ccfa"},"encoding":{"x":{"datum":{"year":2017,"month":12,"date":29,"hours":5,"utc":true}},"x2":{"datum":{"year":2018,"month":1,"date":19,"hours":10,"utc":true}},"y":{"datum":20,"type":"quantitative","title":null},"y2":{"datum":80}}},
  {"data":{"values":[{}]},"mark":{"type":"rule","color":"#a0a0a0","strokeDash":[4,3],"strokeWidth":1},"encoding":{"y":{"datum":80,"type":"quantitative","title":null}}},
  {"data":{"values":[{}]},"mark":{"type":"rule","color":"#a0a0a0","strokeDash":[4,3],"strokeWidth":1},"encoding":{"y":{"datum":20,"type":"quantitative","title":null}}},
  {"data":{"name":"candles"},"mark":{"type":"line","color":"#5aa6ff","strokeWidth":1},"encoding":{
    "x":{"field":"t","type":"temporal","title":null,"scale":{"type":"utc","domain":[{"year":2017,"month":12,"date":29,"hours":5,"utc":true},{"year":2018,"month":1,"date":19,"hours":10,"utc":true}]},
      "axis":{"orient":"bottom","values":[{"year":2017,"month":12,"date":30,"hours":12,"utc":true},{"year":2018,"month":1,"date":1,"utc":true},{"year":2018,"month":1,"date":3,"utc":true},{"year":2018,"month":1,"date":5,"utc":true},{"year":2018,"month":1,"date":6,"hours":12,"utc":true},{"year":2018,"month":1,"date":8,"utc":true},{"year":2018,"month":1,"date":10,"utc":true},{"year":2018,"month":1,"date":12,"utc":true},{"year":2018,"month":1,"date":13,"hours":12,"utc":true},{"year":2018,"month":1,"date":15,"utc":true},{"year":2018,"month":1,"date":17,"utc":true},{"year":2018,"month":1,"date":19,"utc":true}],"labelExpr":"utcFormat(datum.value, '%H') == '12' ? '12:00' : (utcFormat(datum.value, '%d') == '01' ? '2018' : utcFormat(datum.value, '%-d'))","grid":true,"gridColor":"#eef1f5","ticks":false,"labelPadding":3,"domainColor":"#606060","labelFlush":false,"labelOverlap":false}},
    "y":{"field":"k","type":"quantitative","title":null,"scale":{"domain":[-6.7,103.3],"nice":false,"zero":false},
      "axis":{"orient":"right","values":[0,20,40,60,80,100],"grid":true,"gridColor":"#eef1f5","ticks":false,"labels":false,"domainColor":"#606060"}}}},
  {"data":{"name":"candles"},"mark":{"type":"line","color":"#f7805a","strokeWidth":1},"encoding":{"x":{"field":"t","type":"temporal","title":null},"y":{"field":"d","type":"quantitative","title":null}}},
  {"data":{"name":"sticks"},"mark":{"type":"text","align":"left","baseline":"middle","dx":4,"fontSize":7.5,"color":"#4a4f59"},"encoding":{"x":{"datum":{"year":2018,"month":1,"date":19,"hours":10,"utc":true}},"y":{"field":"s","type":"quantitative","title":null},"text":{"field":"s","type":"quantitative","format":".4f"}}},
  {"data":{"values":[{}]},"mark":{"type":"text","text":"Stoch (14, 3, 1)","color":"#444444","align":"left","fontSize":6.3},"encoding":{"x":{"datum":{"year":2017,"month":12,"date":29,"hours":9,"minutes":4,"utc":true}},"y":{"datum":94.7,"type":"quantitative","title":null}}},
  {"data":{"values":[{}]},"mark":{"type":"text","text":"▾","font":"DejaVu Sans","color":"#999999","align":"left","fontSize":6},"encoding":{"x":{"datum":{"year":2017,"month":12,"date":30,"hours":22,"minutes":2,"utc":true}},"y":{"datum":94.7,"type":"quantitative","title":null}}},
  {"data":{"values":[{}]},"mark":{"type":"text","text":"■ ■ ■ ■","font":"DejaVu Sans","color":"#dcdcdc","align":"left","fontSize":8.5},"encoding":{"x":{"datum":{"year":2017,"month":12,"date":31,"hours":7,"minutes":20,"utc":true}},"y":{"datum":94.7,"type":"quantitative","title":null}}},
  {"data":{"values":[{}]},"mark":{"type":"text","text":"26.7476","color":"#3d8fe8","align":"left","fontSize":6.3},"encoding":{"x":{"datum":{"year":2018,"month":1,"date":1,"hours":15,"minutes":0,"utc":true}},"y":{"datum":94.7,"type":"quantitative","title":null}}},
  {"data":{"values":[{}]},"mark":{"type":"text","text":"29.2660","color":"#f77b4f","align":"left","fontSize":6.3},"encoding":{"x":{"datum":{"year":2018,"month":1,"date":2,"hours":12,"minutes":6,"utc":true}},"y":{"datum":94.7,"type":"quantitative","title":null}}}
]
},
{
"width":627,"height":23,
"layer":[
  {"data":{"values":[{}]},"mark":{"type":"rect","color":"#eceef1"},"encoding":{"x":{"datum":{"year":2017,"month":12,"date":29,"hours":5,"utc":true},"scale":{"type":"utc","domain":[{"year":2017,"month":12,"date":29,"hours":5,"utc":true},{"year":2018,"month":1,"date":19,"hours":10,"utc":true}]},"axis":null},"x2":{"datum":{"year":2018,"month":1,"date":22,"utc":true}},"y":{"datum":0,"type":"quantitative","scale":{"domain":[0,1]},"axis":null},"y2":{"datum":0.61}}},
  {"data":{"values":[{}]},"mark":{"type":"text","text":"1d","color":"#7c7f85","fontSize":7.5},"encoding":{"x":{"datum":{"year":2017,"month":12,"date":29,"hours":14,"minutes":45,"utc":true}},"y":{"datum":0.3,"type":"quantitative"}}},
  {"data":{"values":[{}]},"mark":{"type":"text","text":"5d","color":"#7c7f85","fontSize":7.5},"encoding":{"x":{"datum":{"year":2017,"month":12,"date":30,"hours":9,"minutes":25,"utc":true}},"y":{"datum":0.3,"type":"quantitative"}}},
  {"data":{"values":[{}]},"mark":{"type":"text","text":"1m","color":"#7c7f85","fontSize":7.5},"encoding":{"x":{"datum":{"year":2017,"month":12,"date":30,"hours":21,"minutes":39,"utc":true}},"y":{"datum":0.3,"type":"quantitative"}}},
  {"data":{"values":[{}]},"mark":{"type":"text","text":"3m","color":"#7c7f85","fontSize":7.5},"encoding":{"x":{"datum":{"year":2017,"month":12,"date":31,"hours":19,"minutes":31,"utc":true}},"y":{"datum":0.3,"type":"quantitative"}}},
  {"data":{"values":[{}]},"mark":{"type":"text","text":"6m","color":"#7c7f85","fontSize":7.5},"encoding":{"x":{"datum":{"year":2018,"month":1,"date":1,"hours":13,"minutes":22,"utc":true}},"y":{"datum":0.3,"type":"quantitative"}}},
  {"data":{"values":[{}]},"mark":{"type":"text","text":"YTD","color":"#7c7f85","fontSize":7.5},"encoding":{"x":{"datum":{"year":2018,"month":1,"date":2,"hours":7,"minutes":14,"utc":true}},"y":{"datum":0.3,"type":"quantitative"}}},
  {"data":{"values":[{}]},"mark":{"type":"text","text":"1y","color":"#7c7f85","fontSize":7.5},"encoding":{"x":{"datum":{"year":2018,"month":1,"date":3,"hours":3,"minutes":32,"utc":true}},"y":{"datum":0.3,"type":"quantitative"}}},
  {"data":{"values":[{}]},"mark":{"type":"text","text":"5y","color":"#7c7f85","fontSize":7.5},"encoding":{"x":{"datum":{"year":2018,"month":1,"date":3,"hours":19,"minutes":46,"utc":true}},"y":{"datum":0.3,"type":"quantitative"}}},
  {"data":{"values":[{}]},"mark":{"type":"text","text":"All","color":"#7c7f85","fontSize":7.5},"encoding":{"x":{"datum":{"year":2018,"month":1,"date":4,"hours":12,"minutes":49,"utc":true}},"y":{"datum":0.3,"type":"quantitative"}}},
  {"data":{"values":[{}]},"mark":{"type":"text","text":"Go to...","color":"#7c7f85","fontSize":7.5},"encoding":{"x":{"datum":{"year":2018,"month":1,"date":5,"hours":14,"minutes":47,"utc":true}},"y":{"datum":0.3,"type":"quantitative"}}},
  {"data":{"values":[{}]},"mark":{"type":"text","text":"12:49:04 (UTC)","color":"#7c7f85","fontSize":7.5},"encoding":{"x":{"datum":{"year":2018,"month":1,"date":15,"hours":21,"minutes":35,"utc":true}},"y":{"datum":0.3,"type":"quantitative"}}},
  {"data":{"values":[{}]},"mark":{"type":"text","text":"ext","color":"#7c7f85","fontSize":7.5},"encoding":{"x":{"datum":{"year":2018,"month":1,"date":17,"hours":3,"minutes":38,"utc":true}},"y":{"datum":0.3,"type":"quantitative"}}},
  {"data":{"values":[{}]},"mark":{"type":"text","text":"%","color":"#7c7f85","fontSize":7.5},"encoding":{"x":{"datum":{"year":2018,"month":1,"date":17,"hours":20,"minutes":41,"utc":true}},"y":{"datum":0.3,"type":"quantitative"}}},
  {"data":{"values":[{}]},"mark":{"type":"text","text":"log","color":"#7c7f85","fontSize":7.5},"encoding":{"x":{"datum":{"year":2018,"month":1,"date":18,"hours":15,"minutes":21,"utc":true}},"y":{"datum":0.3,"type":"quantitative"}}},
  {"data":{"values":[{}]},"mark":{"type":"text","text":"auto","color":"#3fa1e8","fontSize":7.5},"encoding":{"x":{"datum":{"year":2018,"month":1,"date":19,"hours":11,"minutes":39,"utc":true}},"y":{"datum":0.3,"type":"quantitative"}}},
  {"data":{"values":[{}]},"mark":{"type":"text","text":"⚙","font":"DejaVu Sans","color":"#7c7f85","fontSize":9},"encoding":{"x":{"datum":{"year":2018,"month":1,"date":20,"hours":5,"minutes":30,"utc":true}},"y":{"datum":0.3,"type":"quantitative"}}}
]
}
]
}
